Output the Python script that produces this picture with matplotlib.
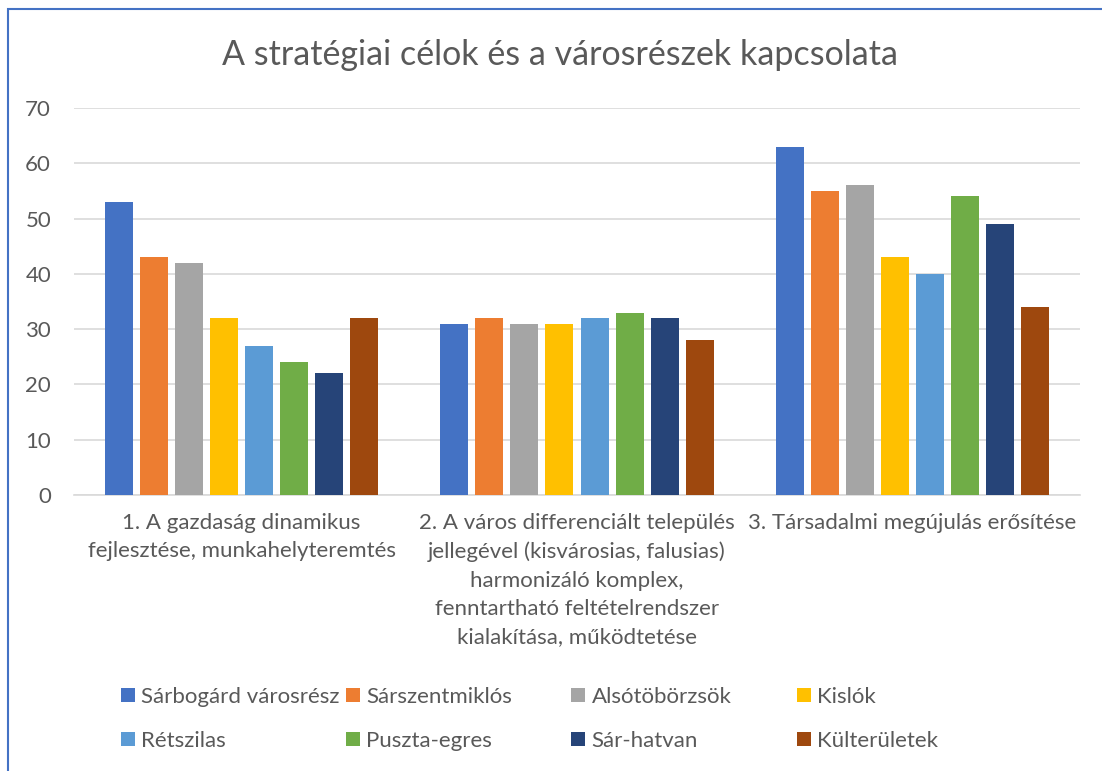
import matplotlib
matplotlib.use("Agg")
import matplotlib.pyplot as plt
from matplotlib.patches import Rectangle, Patch
import numpy as np

categories = [
    "1. A gazdaság dinamikus\nfejlesztése, munkahelyteremtés",
    "2. A város differenciált település\njellegével (kisvárosias, falusias)\nharmonizáló komplex,\nfenntartható feltételrendszer\nkialakítása, működtetése",
    "3. Társadalmi megújulás erősítése",
]
series_names = ["Sárbogárd városrész", "Sárszentmiklós", "Alsótöbörzsök", "Kislók",
                "Rétszilas", "Puszta-egres", "Sár-hatvan", "Külterületek"]
values = {
    "Sárbogárd városrész": [53, 31, 63],
    "Sárszentmiklós": [43, 32, 55],
    "Alsótöbörzsök": [42, 31, 56],
    "Kislók": [32, 31, 43],
    "Rétszilas": [27, 32, 40],
    "Puszta-egres": [24, 33, 54],
    "Sár-hatvan": [22, 32, 49],
    "Külterületek": [32, 28, 34],
}
colors = ["#4472C4", "#ED7D31", "#A5A5A5", "#FFC000",
          "#5B9BD5", "#70AD47", "#264478", "#9E480E"]
yticks = [0, 10, 20, 30, 40, 50, 60, 70]

plt.rcParams['font.family'] = ['Lato', 'DejaVu Sans']
txt = "#595959"
fs = 16

W, H = 1102, 771
fig = plt.figure(figsize=(W / 100, H / 100), dpi=100)
fig.patch.set_facecolor("white")

# chart border
fig.patches.append(Rectangle((8 / W, -0.01), 1.2, 1 - 9 / H + 0.01, transform=fig.transFigure,
                             fill=False, edgecolor="#4472C4", linewidth=1.5))

ax = fig.add_axes([74 / W, 1 - 495 / H, (1080 - 74) / W, (495 - 108) / H])
x = np.arange(len(categories))
step = 35 / 335
bw = 28 / 335
n = len(series_names)
for i, (name, c) in enumerate(zip(series_names, colors)):
    offs = (i - (n - 1) / 2) * step
    ax.bar(x + offs, values[name], width=bw, color=c, zorder=3, label=name)

ax.set_xlim(-0.5, len(categories) - 0.5)
ax.set_ylim(0, 70)
ax.set_yticks(yticks)
ax.yaxis.grid(True, color="#D9D9D9", linewidth=1.2, zorder=0)
ax.set_axisbelow(True)
for s in ["top", "right", "left"]:
    ax.spines[s].set_visible(False)
ax.spines["bottom"].set_color("#D9D9D9")
ax.spines["bottom"].set_linewidth(1.2)
ax.tick_params(axis="both", length=0, labelcolor=txt, labelsize=fs)
ax.tick_params(axis="y", pad=16.5)
ax.set_xticks(x)
ax.set_xticklabels(categories, linespacing=1.52, va="top")
ax.tick_params(axis="x", pad=13)

fig.text(560 / W, 1 - 55 / H, "A stratégiai célok és a városrészek kapcsolata",
         ha="center", va="center", fontsize=24.5, color=txt, fontweight="normal")

# legend: 4 columns, 2 rows, equal column width
col_x = [121, 346, 571, 797]
row_y = [697, 741]
for i, (name, c) in enumerate(zip(series_names, colors)):
    r, cidx = divmod(i, 4)
    leg = fig.legend(handles=[Patch(facecolor=c, label=name)],
                     loc="center left",
                     bbox_to_anchor=(col_x[cidx] / W, 1 - row_y[r] / H),
                     frameon=False, fontsize=fs, handlelength=0.62, handleheight=0.62,
                     handletextpad=0.3, borderpad=0, borderaxespad=0, labelcolor=txt)

fig.savefig("out.png", dpi=100, facecolor="white")
